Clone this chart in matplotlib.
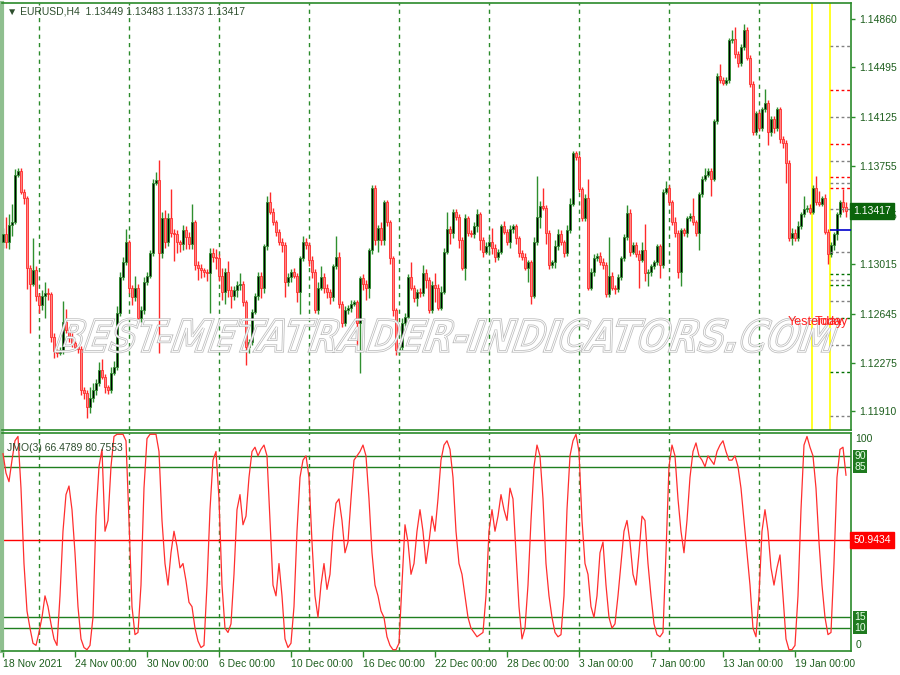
import numpy as np
import pandas as pd
import matplotlib
matplotlib.use('Agg')
import matplotlib.pyplot as plt
import matplotlib.transforms as mtransforms
from matplotlib.textpath import TextPath
from matplotlib.font_manager import FontProperties
from matplotlib.patches import PathPatch

plt.rcParams['font.family'] = ['Liberation Sans', 'DejaVu Sans']

# ---- data -------------------------------------------------------------
header = '\u25BC EURUSD,H4  1.13449 1.13483 1.13373 1.13417'
first_open = 1.1318
closes = [
    1.1324, 1.1318, 1.1331, 1.1333, 1.1369, 1.1372, 1.1356, 1.1351, 1.1299, 1.1287,
    1.1297, 1.1278, 1.1271, 1.1278, 1.1280, 1.1279, 1.1247, 1.1236, 1.1235, 1.1237,
    1.1258, 1.1252, 1.1247, 1.1242, 1.1239, 1.1238, 1.1207, 1.1205, 1.1194, 1.1201,
    1.1207, 1.1212, 1.1222, 1.1217, 1.1209, 1.1207, 1.1220, 1.1224, 1.1265, 1.1292,
    1.1303, 1.1318, 1.1284, 1.1277, 1.1284, 1.1261, 1.1267, 1.1288, 1.1293, 1.1310,
    1.1363, 1.1365, 1.1310, 1.1336, 1.1318, 1.1336, 1.1325, 1.1324, 1.1318, 1.1317,
    1.1327, 1.1322, 1.1317, 1.1333, 1.1301, 1.1299, 1.1297, 1.1296, 1.1295, 1.1310,
    1.1307, 1.1306, 1.1293, 1.1281, 1.1296, 1.1282, 1.1278, 1.1282, 1.1286, 1.1287,
    1.1273, 1.1239, 1.1243, 1.1266, 1.1278, 1.1293, 1.1284, 1.1315, 1.1348, 1.1341,
    1.1333, 1.1326, 1.1318, 1.1316, 1.1288, 1.1292, 1.1296, 1.1293, 1.1281, 1.1306,
    1.1318, 1.1316, 1.1305, 1.1296, 1.1267, 1.1284, 1.1292, 1.1284, 1.1281, 1.1277,
    1.1300, 1.1307, 1.1272, 1.1257, 1.1267, 1.1269, 1.1272, 1.1273, 1.1257, 1.1291,
    1.1287, 1.1284, 1.1312, 1.1359, 1.1320, 1.1329, 1.1320, 1.1348, 1.1333, 1.1306,
    1.1267, 1.1237, 1.1239, 1.1257, 1.1262, 1.1292, 1.1284, 1.1276, 1.1281, 1.1280,
    1.1295, 1.1290, 1.1267, 1.1286, 1.1284, 1.1269, 1.1281, 1.1311, 1.1328, 1.1325,
    1.1341, 1.1337, 1.1320, 1.1299, 1.1336, 1.1325, 1.1324, 1.1330, 1.1339, 1.1320,
    1.1311, 1.1315, 1.1318, 1.1314, 1.1307, 1.1311, 1.1330, 1.1326, 1.1318, 1.1328,
    1.1330, 1.1321, 1.1310, 1.1307, 1.1299, 1.1303, 1.1278, 1.1318, 1.1337, 1.1345,
    1.1344, 1.1325, 1.1301, 1.1303, 1.1315, 1.1324, 1.1318, 1.1310, 1.1327, 1.1347,
    1.1385, 1.1382, 1.1358, 1.1336, 1.1351, 1.1284, 1.1296, 1.1306, 1.1308, 1.1303,
    1.1301, 1.1279, 1.1293, 1.1284, 1.1283, 1.1292, 1.1306, 1.1322, 1.1340, 1.1311,
    1.1316, 1.1309, 1.1305, 1.1312, 1.1295, 1.1296, 1.1300, 1.1303, 1.1315, 1.1301,
    1.1356, 1.1359, 1.1348, 1.1333, 1.1325, 1.1296, 1.1327, 1.1325, 1.1336, 1.1338,
    1.1333, 1.1325, 1.1354, 1.1366, 1.1369, 1.1372, 1.1366, 1.1409, 1.1443, 1.1440,
    1.1438, 1.1440, 1.1470, 1.1471, 1.1460, 1.1453, 1.1465, 1.1478, 1.1457, 1.1437,
    1.1401, 1.1415, 1.1404, 1.1418, 1.1423, 1.1401, 1.1411, 1.1404, 1.1418, 1.1396,
    1.1393, 1.1378, 1.1321, 1.1325, 1.1321, 1.1330, 1.1339, 1.1343, 1.1344, 1.1341,
    1.1359, 1.1348, 1.1347, 1.1351, 1.1326, 1.1309, 1.1316, 1.1324, 1.1339, 1.1348,
    1.13449, 1.13417,
]
# wick lengths in pips above / below the body
wick_up = [
    5, 13, 8, 14, 4, 2, 2, 2, 2, 2,
    24, 3, 2, 4, 8, 4, 2, 3, 2, 2,
    16, 10, 2, 3, 2, 2, 2, 2, 2, 8,
    5, 3, 6, 8, 2, 2, 4, 5, 5, 4,
    4, 10, 2, 2, 9, 3, 3, 4, 3, 2,
    3, 6, 15, 5, 6, 4, 22, 3, 3, 2,
    4, 3, 4, 14, 2, 3, 3, 2, 2, 4,
    4, 6, 3, 6, 3, 8, 3, 3, 3, 8,
    2, 2, 2, 2, 2, 3, 3, 2, 5, 8,
    3, 2, 2, 3, 2, 3, 2, 3, 2, 2,
    5, 3, 2, 3, 2, 4, 8, 3, 3, 2,
    2, 16, 4, 2, 3, 2, 3, 2, 2, 2,
    3, 3, 2, 2, 2, 2, 4, 2, 2, 2,
    2, 2, 2, 4, 3, 2, 11, 2, 2, 3,
    6, 3, 2, 3, 9, 3, 4, 3, 13, 2,
    2, 2, 2, 2, 3, 2, 2, 3, 4, 2,
    2, 3, 4, 11, 3, 2, 2, 4, 2, 3,
    2, 2, 2, 2, 3, 2, 2, 4, 31, 4,
    14, 2, 2, 2, 5, 4, 3, 2, 4, 4,
    2, 2, 2, 2, 3, 15, 3, 3, 2, 3,
    3, 2, 29, 3, 2, 2, 2, 2, 6, 3,
    2, 2, 3, 6, 20, 2, 2, 2, 2, 2,
    2, 5, 2, 2, 4, 2, 2, 2, 2, 2,
    13, 2, 2, 2, 5, 2, 2, 2, 2, 9,
    2, 2, 2, 7, 9, 2, 2, 4, 2, 2,
    2, 2, 2, 2, 10, 2, 2, 2, 2, 2,
    2, 2, 2, 4, 3, 4, 2, 10, 2, 3,
    2, 9, 9, 2, 3, 2, 2, 2, 2, 2,
    10, 3.4,
]
wick_down = [
    4, 4, 5, 8, 1, 2, 2, 4, 16, 37,
    2, 4, 6, 4, 17, 4, 4, 5, 3, 2,
    3, 2, 4, 3, 2, 3, 4, 5, 8, 4,
    3, 4, 2, 2, 4, 3, 2, 2, 2, 2,
    2, 2, 4, 6, 3, 2, 3, 3, 2, 2,
    2, 2, 75, 4, 4, 3, 3, 20, 8, 6,
    5, 9, 4, 4, 4, 9, 6, 4, 6, 30,
    4, 8, 4, 6, 9, 5, 9, 3, 5, 4,
    3, 13, 4, 2, 2, 3, 8, 4, 3, 2,
    2, 3, 2, 5, 11, 3, 4, 2, 8, 17,
    2, 3, 5, 5, 2, 3, 2, 4, 5, 5,
    3, 2, 3, 3, 2, 3, 3, 2, 16, 37,
    5, 9, 8, 3, 4, 9, 4, 4, 3, 4,
    4, 4, 4, 2, 2, 2, 2, 3, 6, 3,
    2, 6, 2, 2, 11, 2, 2, 2, 2, 8,
    4, 2, 6, 2, 9, 2, 2, 3, 4, 8,
    4, 2, 6, 5, 4, 2, 2, 2, 2, 4,
    3, 4, 3, 2, 2, 11, 6, 2, 2, 8,
    2, 8, 3, 2, 4, 3, 2, 3, 2, 2,
    2, 2, 2, 2, 2, 2, 2, 3, 2, 2,
    3, 2, 2, 2, 4, 2, 2, 2, 2, 3,
    2, 2, 21, 2, 6, 10, 3, 2, 2, 10,
    2, 2, 2, 2, 3, 5, 11, 2, 3, 2,
    2, 2, 13, 2, 2, 2, 13, 2, 2, 2,
    2, 2, 2, 2, 3, 3, 2, 2, 2, 2,
    2, 2, 2, 2, 2, 10, 3, 4, 2, 3,
    4, 15, 2, 5, 2, 2, 2, 2, 2, 2,
    2, 2, 2, 2, 2, 7, 2, 4, 4, 2,
    4, 4.4,
]
jmo = [
    91, 82, 78, 88, 97, 99, 75, 40, 18, 10,
    3, 2, 8, 15, 25, 20, 12, 5, 2, 25,
    55, 72, 76, 65, 45, 20, 5, 1, 0, 2,
    15, 62, 85, 93, 55, 60, 85, 99, 100, 100,
    100, 97, 60, 20, 7, 8, 30, 75, 98, 100,
    100, 100, 92, 60, 40, 30, 45, 55, 48, 38,
    40, 32, 22, 20, 10, 4, 1, 2, 30, 65,
    88, 92, 70, 30, 10, 8, 12, 35, 65, 72,
    58, 62, 80, 92, 94, 90, 93, 95, 90, 60,
    30, 25, 40, 25, 5, 1, 3, 20, 55, 80,
    88, 90, 80, 50, 25, 15, 30, 40, 28, 35,
    55, 68, 70, 60, 45, 50, 70, 88, 90, 92,
    95, 90, 70, 45, 30, 25, 18, 15, 6, 2,
    0, 0, 3, 30, 58, 50, 35, 40, 55, 65,
    55, 40, 50, 62, 55, 70, 88, 95, 97, 93,
    80, 55, 40, 35, 25, 15, 10, 8, 6, 7,
    8, 25, 55, 65, 55, 62, 72, 65, 60, 75,
    70, 45, 20, 5, 10, 30, 60, 85, 95, 90,
    70, 40, 25, 15, 8, 6, 7, 25, 65, 90,
    97, 100, 92, 60, 40, 35, 20, 15, 25, 45,
    50, 30, 15, 10, 12, 25, 40, 55, 60, 50,
    35, 30, 45, 62, 60, 40, 25, 12, 7, 6,
    8, 45, 85, 95, 90, 70, 55, 45, 60, 80,
    92, 96, 90, 88, 85, 90, 88, 86, 92, 95,
    97, 92, 88, 88, 90, 85, 75, 60, 45, 30,
    10, 6, 25, 55, 65, 55, 38, 30, 38, 44,
    25, 5, 0, 0, 2, 25, 65, 95, 99, 94,
    90, 75, 50, 30, 15, 7, 8, 40, 80, 93,
    94, 81,
]
jmo_label = 'JMO(3) 66.4789 80.7553'
jmo_mid = 50.9434
jmo_levels = [90, 85, 15, 10]

price_ticks = [1.14860, 1.14495, 1.14125, 1.13755, 1.13385,
               1.13015, 1.12645, 1.12275, 1.11910]
last_price = 1.13417
pivot_prices = [1.14657, 1.14326, 1.14123, 1.13920, 1.13792, 1.13672, 1.13627,
                1.13589, 1.13431, 1.13108, 1.12942, 1.12897, 1.12860, 1.12739,
                1.12612, 1.12408, 1.12205, 1.11875]
pivot_kinds = ['g', 'r', 'g', 'r', 'g', 'r', 'g', 'r', 'g', 'g',
               'n', 'g', 'n', 'g', 'n', 'g', 'n', 'g']
blue_level = 1.13273

label_days = ['2021-11-18', '2021-11-24', '2021-11-30', '2021-12-06', '2021-12-10',
              '2021-12-16', '2021-12-22', '2021-12-28', '2022-01-03', '2022-01-07',
              '2022-01-13', '2022-01-19']
label_text = ['18 Nov 2021', '24 Nov 00:00', '30 Nov 00:00', '6 Dec 00:00',
              '10 Dec 00:00', '16 Dec 00:00', '22 Dec 00:00', '28 Dec 00:00',
              '3 Jan 00:00', '7 Jan 00:00', '13 Jan 00:00', '19 Jan 00:00']
yesterday, today = '2022-01-20', '2022-01-21'

# ---- derived -----------------------------------------------------------
n = len(closes)
c = np.array(closes)
o = np.array([first_open] + closes[:-1])
hi = np.maximum(o, c) + np.array(wick_up) * 0.0001
lo = np.minimum(o, c) - np.array(wick_down) * 0.0001
x = np.arange(n)

days = pd.bdate_range('2021-11-18', periods=60)
times = pd.DatetimeIndex([d + pd.Timedelta(hours=4 * k) for d in days for k in range(6)][:n])
label_idx = [times.get_loc(pd.Timestamp(d)) for d in label_days]
y_idx = times.get_loc(pd.Timestamp(yesterday))
t_idx = times.get_loc(pd.Timestamp(today))

GREEN = '#2a8a2a'
DARK = '#1d5e1d'
BULL_EDGE = '#2f8f2f'
BEAR_EDGE = '#ff2a2a'
BEAR_BODY = '#ff8585'

W, H = 900, 675
fig = plt.figure(figsize=(W / 100, H / 100), dpi=100)
ax1 = fig.add_axes([2 / W, 1 - 430 / H, 849 / W, 427 / H])
ax2 = fig.add_axes([2 / W, 1 - 651 / H, 849 / W, 218 / H])

xmin, xmax = -0.33, 282.67
for ax in (ax1, ax2):
    ax.set_xlim(xmin, xmax)
    for s in ('top', 'right', 'bottom'):
        ax.spines[s].set_color(GREEN)
        ax.spines[s].set_linewidth(1.2)
    ax.spines['left'].set_color('#8fbf8f')
    ax.spines['left'].set_linewidth(3)
    for g in range(12, n, 30):
        ax.axvline(g, color=GREEN, lw=1, ls=(0, (3, 3)), zorder=0)

# ---- main price panel ---------------------------------------------------
ax1.set_ylim(1.11769, 1.14980)
bull = c >= o
edge = np.where(bull, BULL_EDGE, BEAR_EDGE)
body = np.where(bull, '#000000', BEAR_BODY)
ax1.vlines(x, lo, hi, colors=edge, lw=1, zorder=2)
heights = np.maximum(np.abs(c - o), 0.00004)
ax1.bar(x, heights, bottom=np.minimum(o, c), width=0.62, color=body,
        edgecolor=edge, linewidth=0.6, zorder=3)

ax1.axvline(y_idx - 0.25, color='#ffff00', lw=1.2, zorder=1)
ax1.axvline(t_idx - 0.25, color='#ffff00', lw=1.2, zorder=1)
pcol = {'g': '#808080', 'r': '#ff0000', 'n': '#007000'}
for p, k in zip(pivot_prices, pivot_kinds):
    ax1.hlines(p, t_idx - 0.25, xmax, colors=pcol[k], lw=1, ls=(0, (2, 2)), zorder=4)
ax1.hlines(blue_level, t_idx - 0.25, xmax, colors='#0000cc', lw=1.2, zorder=4)

ax1.set_xticks([])
ax1.yaxis.tick_right()
ax1.set_yticks(price_ticks)
ax1.set_yticklabels(['%.5f' % p for p in price_ticks])
ax1.tick_params(axis='y', length=3, width=1, color=GREEN, labelcolor=DARK,
                labelsize=7.5, pad=3)
ax1.text(0.006, 0.979, header, transform=ax1.transAxes, fontsize=7.5,
         color='#2e4e2e', va='center', ha='left')

bt = mtransforms.blended_transform_factory(ax1.transAxes, ax1.transData)
ax1.text(1.003, last_price, '1.13417', transform=bt, va='center', ha='left',
         color='white', fontsize=7.5, clip_on=False, zorder=10,
         bbox=dict(boxstyle='square,pad=0.3', fc='#0b640b', ec='#0b640b'))

# ---- JMO panel -----------------------------------------------------------
ax2.set_ylim(-0.6, 100.6)
ax2.plot(x, jmo, color='#ff2e2e', lw=0.9, zorder=3)
for lv in jmo_levels:
    ax2.axhline(lv, color='#1f7f1f', lw=1, zorder=2)
ax2.axhline(jmo_mid, color='#ff0000', lw=1, zorder=2)
ax2.set_yticks([])
ax2.set_xticks(label_idx)
ax2.set_xticklabels(label_text, ha='left')
ax2.tick_params(axis='x', length=4, width=1, color=GREEN, labelcolor=DARK,
                labelsize=7.5, pad=2)
ax2.text(0.006, 0.955, jmo_label, transform=ax2.transAxes, fontsize=7.5,
         color='#2e4e2e', va='top', ha='left')

bt2 = mtransforms.blended_transform_factory(ax2.transAxes, ax2.transData)
ax2.text(1.005, 100, '100', transform=bt2, va='top', ha='left', color=DARK,
         fontsize=7.5, clip_on=False)
ax2.text(1.005, 0, '0', transform=bt2, va='bottom', ha='left', color=DARK,
         fontsize=7.5, clip_on=False)
for lv in jmo_levels:
    ax2.text(1.004, lv, str(lv), transform=bt2, va='center', ha='left',
             color='#e8ffe8', fontsize=7.5, clip_on=False, zorder=10,
             bbox=dict(boxstyle='square,pad=0.12', fc='#1f7a1f', ec='none'))
ax2.text(1.003, jmo_mid, '%.4f' % jmo_mid, transform=bt2, va='center', ha='left',
         color='white', fontsize=7.5, clip_on=False, zorder=10,
         bbox=dict(boxstyle='square,pad=0.3', fc='#ff0000', ec='#ff0000'))

# ---- watermark -------------------------------------------------------------
tp = TextPath((0, 0), 'BEST-METATRADER-INDICATORS.COM', size=10,
              prop=FontProperties(family='DejaVu Sans', weight='bold'))
ext = tp.get_extents()
shear = np.radians(22)
tw, th = 785.0, 33.0
sx = tw / (ext.width + ext.height * np.tan(shear))
sy = th / ext.height
tr = (mtransforms.Affine2D().translate(-ext.x0, -ext.y0).skew(shear, 0)
      .scale(sx, sy).translate(55, H - 352).scale(1 / W, 1 / H))
for lw, col in ((1.8, '#bdbdbd'), (0.7, 'white')):
    fig.add_artist(PathPatch(tp, transform=tr + fig.transFigure, fc='none',
                             ec=col, lw=lw, zorder=8))

# day-line captions sit above the watermark
fig.text(y_idx - 8.5, 1.12582, 'Yesterday', transform=ax1.transData,
         color='#ff2020', fontsize=9, va='center', zorder=9)
fig.text(t_idx - 5.5, 1.12582, 'Today', transform=ax1.transData,
         color='#ff2020', fontsize=9, va='center', zorder=9)

fig.savefig('out.png', dpi=100, facecolor='white')
